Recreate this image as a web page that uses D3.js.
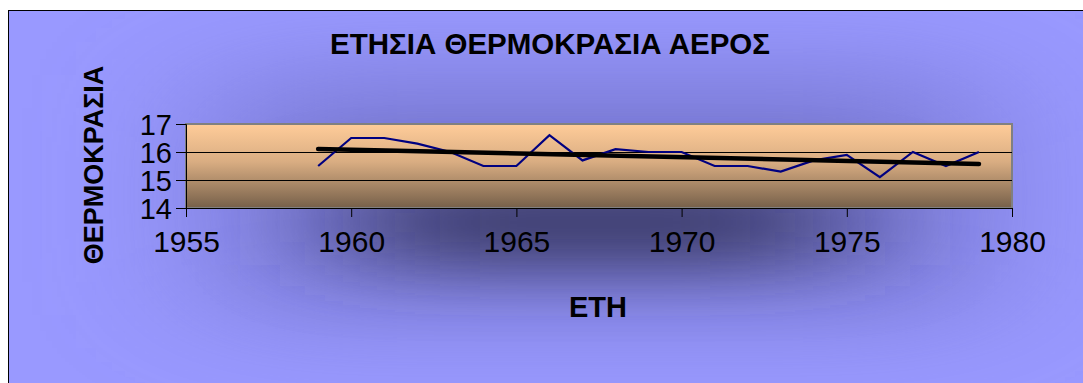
<!DOCTYPE html>
<html><head><meta charset="utf-8">
<script src="https://cdn.jsdelivr.net/npm/d3@7"></script>
<style>html,body{margin:0;padding:0;background:#fff;}svg{display:block;}</style>
</head><body>
<svg id="chart" width="1083" height="383"></svg>
<script>
const years = [1959,1960,1961,1962,1963,1964,1965,1966,1967,1968,1969,1970,1971,1972,1973,1974,1975,1976,1977,1978,1979];
const temps = [15.5,16.5,16.5,16.3,16.0,15.5,15.5,16.6,15.7,16.1,16.0,16.0,15.5,15.5,15.3,15.7,15.9,15.1,16.0,15.5,16.0];
const xTicks = [1955,1960,1965,1970,1975,1980];
const yTicks = [14,15,16,17];
const title = "ΕΤΗΣΙΑ ΘΕΡΜΟΚΡΑΣΙΑ ΑΕΡΟΣ";
const xTitle = "ΕΤΗ";
const yTitle = "ΘΕΡΜΟΚΡΑΣΙΑ";

const svg = d3.select("#chart");
const font = "'Liberation Sans', Arial, sans-serif";
const defs = svg.append("defs");

const glow1 = defs.append("filter").attr("id","glow1")
  .attr("x","-100%").attr("y","-100%").attr("width","300%").attr("height","300%");
glow1.append("feGaussianBlur").attr("stdDeviation","75 32");
const glow2 = defs.append("filter").attr("id","glow2")
  .attr("x","-100%").attr("y","-100%").attr("width","300%").attr("height","300%");
glow2.append("feGaussianBlur").attr("stdDeviation","90 50");

const pg = defs.append("linearGradient").attr("id","plotGrad")
  .attr("x1",0).attr("y1",0).attr("x2",0).attr("y2",1);
pg.append("stop").attr("offset","0%").attr("stop-color","#FFCC99");
pg.append("stop").attr("offset","45%").attr("stop-color","#D9AD82");
pg.append("stop").attr("offset","100%").attr("stop-color","#76604A");

const clip = defs.append("clipPath").attr("id","areaClip");
clip.append("rect").attr("x",9).attr("y",10).attr("width",1100).attr("height",400);

const bgG = svg.append("g").attr("clip-path","url(#areaClip)");
bgG.append("rect").attr("x",9).attr("y",10).attr("width",1100).attr("height",400).attr("fill","#9999FF");
bgG.append("rect").attr("x",220).attr("y",75).attr("width",760).attr("height",240)
  .attr("fill","#6565B8").attr("opacity",0.62).attr("filter","url(#glow2)");
bgG.append("rect").attr("x",360).attr("y",180).attr("width",470).attr("height",85)
  .attr("fill","#3A3A68").attr("filter","url(#glow1)");

svg.append("line").attr("x1",9).attr("y1",10.5).attr("x2",1083).attr("y2",10.5).attr("stroke","#000");
svg.append("line").attr("x1",8.5).attr("y1",10).attr("x2",8.5).attr("y2",383).attr("stroke","#000");

const L = 186, R = 1012, T = 124, B = 208;
const x = d3.scaleLinear().domain([1955,1980]).range([L,R]);
const y = d3.scaleLinear().domain([14,17]).range([B,T]);

svg.append("rect").attr("x",L).attr("y",T).attr("width",R-L).attr("height",B-T)
  .attr("fill","url(#plotGrad)").attr("stroke","#808080").attr("stroke-width",2);

svg.append("g").selectAll("line").data(yTicks.filter(d=>d>14 && d<17)).join("line")
  .attr("x1",L).attr("x2",R).attr("y1",d=>Math.round(y(d))+0.5).attr("y2",d=>Math.round(y(d))+0.5)
  .attr("stroke","#000").attr("stroke-width",1);

const xAxis = svg.append("g").attr("transform",`translate(0,${B})`)
  .call(d3.axisBottom(x).tickValues(xTicks).tickFormat(d3.format("d")).tickSize(9).tickPadding(14));
const yAxis = svg.append("g").attr("transform",`translate(${L},0)`)
  .call(d3.axisLeft(y).tickValues(yTicks).tickFormat(d3.format("d")).tickSize(10).tickPadding(4));
[xAxis,yAxis].forEach(g=>{
  g.select(".domain").attr("stroke","#000").attr("stroke-width",1);
  g.selectAll(".tick line").attr("stroke","#000");
  g.selectAll("text").attr("font-family",font).attr("font-size",30).attr("fill","#000");
});
xAxis.selectAll("text").attr("dy","0.71em");
yAxis.selectAll("text").attr("dy","0.35em").attr("font-size",29);

const line = d3.line().x((d,i)=>x(years[i])).y(d=>y(d));
svg.append("path").datum(temps).attr("d",line).attr("fill","none")
  .attr("stroke","#000080").attr("stroke-width",2.2).attr("stroke-linejoin","miter");

const mx = d3.mean(years), my = d3.mean(temps);
const slope = d3.sum(years.map((v,i)=>(v-mx)*(temps[i]-my))) / d3.sum(years.map(v=>(v-mx)*(v-mx)));
const icpt = my - slope*mx;
const ends = [d3.min(years), d3.max(years)];
svg.append("line")
  .attr("x1",x(ends[0])).attr("y1",y(icpt+slope*ends[0]))
  .attr("x2",x(ends[1])).attr("y2",y(icpt+slope*ends[1]))
  .attr("stroke","#000").attr("stroke-width",4.5).attr("stroke-linecap","round");

svg.append("text").attr("x",550).attr("y",54).attr("text-anchor","middle")
  .attr("font-family",font).attr("font-weight","bold").attr("font-size",29.5).text(title);
svg.append("text").attr("x",598).attr("y",317).attr("text-anchor","middle")
  .attr("font-family",font).attr("font-weight","bold").attr("font-size",29).text(xTitle);
svg.append("text").attr("transform","translate(103,165) rotate(-90)").attr("text-anchor","middle")
  .attr("font-family",font).attr("font-weight","bold").attr("font-size",27).text(yTitle);
</script>
</body></html>
